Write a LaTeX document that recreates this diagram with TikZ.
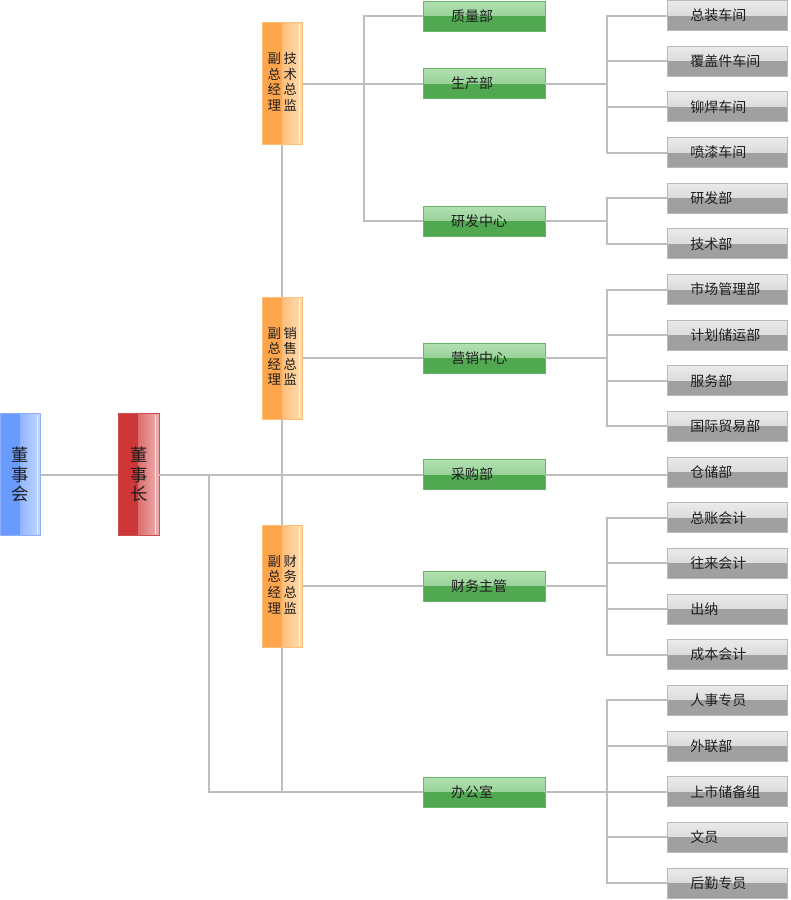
\documentclass[tikz,border=0pt]{standalone}
\usepackage{fontspec}
\setmainfont{Noto Sans CJK SC}
\definecolor{linegray}{RGB}{190,190,190}
\definecolor{textdark}{RGB}{30,30,30}
\definecolor{blueDark}{RGB}{105,155,255}
\definecolor{blueLight}{RGB}{195,215,255}
\definecolor{blueEdge}{RGB}{140,175,255}
\definecolor{redDark}{RGB}{205,55,55}
\definecolor{redLight}{RGB}{238,178,178}
\definecolor{redEdge}{RGB}{200,80,80}
\definecolor{orangeDark}{RGB}{255,165,75}
\definecolor{orangeLight}{RGB}{255,222,180}
\definecolor{orangeEdge}{RGB}{255,190,120}
\definecolor{greenTop}{RGB}{178,224,178}
\definecolor{greenMid}{RGB}{125,196,125}
\definecolor{greenLow}{RGB}{80,168,80}
\definecolor{greenEdge}{RGB}{105,180,105}
\definecolor{grayTop}{RGB}{234,234,234}
\definecolor{grayMid}{RGB}{205,205,205}
\definecolor{grayLow}{RGB}{160,160,160}
\definecolor{grayEdge}{RGB}{185,185,185}
\begin{document}
\begin{tikzpicture}[x=0.75pt, y=-0.75pt,
  every node/.style={inner sep=0pt, text=textdark, font=\fontsize{10.5}{12}\selectfont},
  conn/.style={draw=linegray, line width=1.5pt},
  splitbox/.style n args={3}{draw=#3, line width=0.6pt, minimum width=30.5pt, minimum height=91.5pt, align=center,
    path picture={
      \fill[#1] (path picture bounding box.south west) rectangle (path picture bounding box.north);
      \shade[left color=#1!55!#2, right color=#2] (path picture bounding box.south) rectangle (path picture bounding box.north east);
      \draw[white, opacity=0.7, line width=0.6pt] ([xshift=-2.5pt,yshift=-1pt]path picture bounding box.north east) -- ([xshift=-2.5pt,yshift=1pt]path picture bounding box.south east);
    }},
  greenbox/.style={draw=greenEdge, line width=0.6pt, text width=49.5pt, inner xsep=21pt, minimum height=22.5pt, align=left,
    path picture={
      \shade[top color=greenTop, bottom color=greenMid] (path picture bounding box.north west) rectangle (path picture bounding box.east);
      \fill[greenLow] (path picture bounding box.west) rectangle (path picture bounding box.south east);
    }},
  graybox/.style={draw=grayEdge, line width=0.6pt, text width=55.5pt, inner xsep=17.5pt, minimum height=22.5pt, align=left,
    path picture={
      \shade[top color=grayTop, bottom color=grayMid] (path picture bounding box.north west) rectangle (path picture bounding box.east);
      \fill[grayLow] (path picture bounding box.west) rectangle (path picture bounding box.south east);
    }}]
\useasboundingbox (0,0) rectangle (790,900);

% board and chairman
\node[splitbox={blueDark}{blueLight}{blueEdge}, font=\fontsize{13}{14.5}\selectfont] (board) at (20.3,474.5) {董\\事\\会};
\node[splitbox={redDark}{redLight}{redEdge}, font=\fontsize{13}{14.5}\selectfont] (chairman) at (138.7,474.5) {董\\事\\长};

% vice general managers
\node[splitbox={orangeDark}{orangeLight}{orangeEdge}, font=\fontsize{10}{11}\selectfont] (vpTech) at (282.3,83.5) {\begin{tabular}{@{}c@{\hspace{2pt}}c@{}}副&技\\总&术\\经&总\\理&监\end{tabular}};
\node[splitbox={orangeDark}{orangeLight}{orangeEdge}, font=\fontsize{10}{11}\selectfont] (vpSales) at (282.3,358) {\begin{tabular}{@{}c@{\hspace{2pt}}c@{}}副&销\\总&售\\经&总\\理&监\end{tabular}};
\node[splitbox={orangeDark}{orangeLight}{orangeEdge}, font=\fontsize{10}{11}\selectfont] (vpFin) at (282.3,586.3) {\begin{tabular}{@{}c@{\hspace{2pt}}c@{}}副&财\\总&务\\经&总\\理&监\end{tabular}};

% departments
\node[greenbox] (quality) at (484,16) {质量部};
\node[greenbox] (production) at (484,83.5) {生产部};
\node[greenbox] (rnd) at (484,221) {研发中心};
\node[greenbox] (marketing) at (484,358) {营销中心};
\node[greenbox] (purchasing) at (484,474.5) {采购部};
\node[greenbox] (finance) at (484,586.3) {财务主管};
\node[greenbox] (office) at (484,792.2) {办公室};

% sections
\node[graybox] (assembly) at (727.3,15.5) {总装车间};
\node[graybox] (cover) at (727.3,61.2) {覆盖件车间};
\node[graybox] (weld) at (727.3,106.8) {铆焊车间};
\node[graybox] (paint) at (727.3,152.5) {喷漆车间};
\node[graybox] (devdept) at (727.3,198.1) {研发部};
\node[graybox] (techdept) at (727.3,243.8) {技术部};
\node[graybox] (market) at (727.3,289.5) {市场管理部};
\node[graybox] (planning) at (727.3,335.1) {计划储运部};
\node[graybox] (service) at (727.3,380.8) {服务部};
\node[graybox] (intl) at (727.3,426.4) {国际贸易部};
\node[graybox] (storage) at (727.3,472.1) {仓储部};
\node[graybox] (ledger) at (727.3,517.8) {总账会计};
\node[graybox] (accounts) at (727.3,563.4) {往来会计};
\node[graybox] (cashier) at (727.3,609.1) {出纳};
\node[graybox] (cost) at (727.3,654.7) {成本会计};
\node[graybox] (hr) at (727.3,700.4) {人事专员};
\node[graybox] (liaison) at (727.3,746) {外联部};
\node[graybox] (listing) at (727.3,791.7) {上市储备组};
\node[graybox] (clerk) at (727.3,837.4) {文员};
\node[graybox] (logistics) at (727.3,883) {后勤专员};

% left trunk
\coordinate (jLeft) at (209,474.5);
\draw[conn] (board) -- (chairman);
\draw[conn] (chairman) -- (purchasing);
\draw[conn] (jLeft) |- (office);
\draw[conn] (vpTech) -- (vpSales);
\draw[conn] (vpSales) -- (vpFin);
\draw[conn] (vpFin.south) -- (vpFin.south |- office);

% vice managers to departments
\coordinate (jTech) at (364,83.5);
\draw[conn] (vpTech) -- (production);
\draw[conn] (quality) -| (jTech) |- (rnd);
\draw[conn] (vpSales) -- (marketing);
\draw[conn] (vpFin) -- (finance);

% departments to sections
\coordinate (jProd) at (607,83.5);
\draw[conn] (production) -- (jProd);
\draw[conn] (assembly) -| (jProd) |- (paint);
\draw[conn] (cover) -- (cover -| jProd);
\draw[conn] (weld) -- (weld -| jProd);

\coordinate (jRnd) at (607,221);
\draw[conn] (rnd) -- (jRnd);
\draw[conn] (devdept) -| (jRnd) |- (techdept);

\coordinate (jMkt) at (607,358);
\draw[conn] (marketing) -- (jMkt);
\draw[conn] (market) -| (jMkt) |- (intl);
\draw[conn] (planning) -- (planning -| jMkt);
\draw[conn] (service) -- (service -| jMkt);

\draw[conn] (purchasing) -- (purchasing -| storage.west);

\coordinate (jFin) at (607,586.3);
\draw[conn] (finance) -- (jFin);
\draw[conn] (ledger) -| (jFin) |- (cost);
\draw[conn] (accounts) -- (accounts -| jFin);
\draw[conn] (cashier) -- (cashier -| jFin);

\coordinate (jOff) at (607,792.2);
\draw[conn] (office) -- (jOff);
\draw[conn] (hr) -| (jOff) |- (logistics);
\draw[conn] (liaison) -- (liaison -| jOff);
\draw[conn] (listing) -- (listing -| jOff);
\draw[conn] (clerk) -- (clerk -| jOff);
\end{tikzpicture}
\end{document}
